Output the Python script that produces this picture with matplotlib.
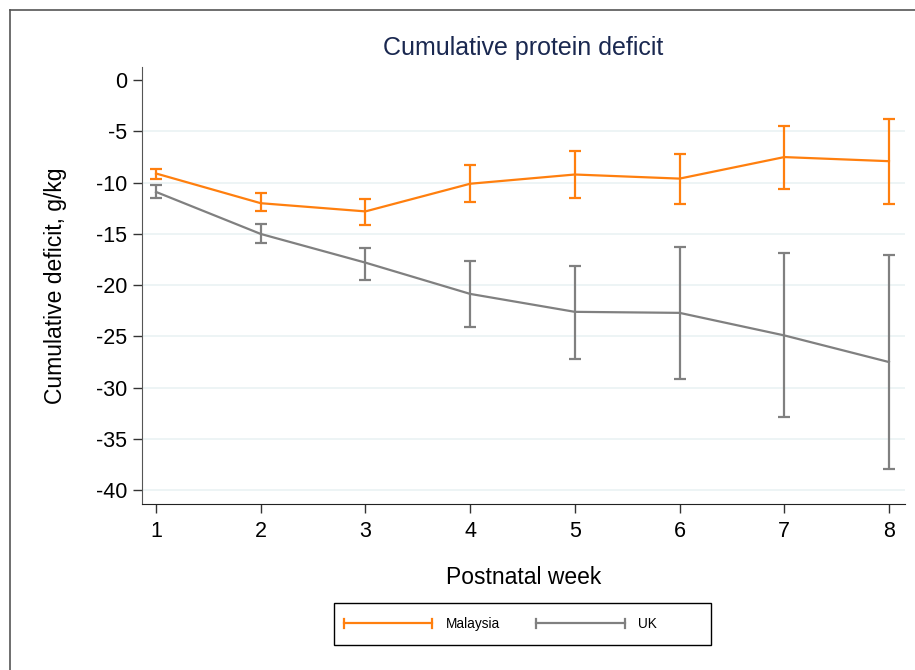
import matplotlib
matplotlib.use("Agg")
import matplotlib.pyplot as plt
from matplotlib.lines import Line2D
from matplotlib.patches import Rectangle
from matplotlib.legend_handler import HandlerBase

plt.rcParams['font.family'] = ['Liberation Sans', 'DejaVu Sans']
plt.rcParams['axes.unicode_minus'] = False

weeks = [1, 2, 3, 4, 5, 6, 7, 8]
malaysia_mean = [-9.1, -12.0, -12.8, -10.1, -9.2, -9.6, -7.5, -7.9]
malaysia_upper = [-8.7, -11.0, -11.6, -8.3, -6.9, -7.2, -4.5, -3.8]
malaysia_lower = [-9.6, -12.8, -14.1, -11.9, -11.5, -12.1, -10.6, -12.1]
uk_mean = [-10.9, -15.0, -17.8, -20.85, -22.6, -22.7, -24.9, -27.5]
uk_upper = [-10.2, -14.0, -16.4, -17.6, -18.1, -16.3, -16.9, -17.1]
uk_lower = [-11.5, -15.9, -19.5, -24.1, -27.2, -29.2, -32.9, -37.9]
yticks = [0, -5, -10, -15, -20, -25, -30, -35, -40]

orange = '#ff7f0e'
gray = '#808080'

fig = plt.figure(figsize=(9.15, 6.7), dpi=100)
ax = fig.add_axes([142/915, 1-504/670, (905-142)/915, (504-67)/670])

for t in yticks[1:]:
    ax.axhline(t, color='#eaf2f3', lw=1.2, zorder=0)

def draw(mean, lo, hi, color, label):
    yerr = [[m - l for m, l in zip(mean, lo)], [h - m for m, h in zip(mean, hi)]]
    ax.errorbar(weeks, mean, yerr=yerr, color=color, lw=1.6, elinewidth=1.6,
                capsize=4.5, capthick=1.6, label=label, zorder=3)

draw(malaysia_mean, malaysia_lower, malaysia_upper, orange, 'Malaysia')
draw(uk_mean, uk_lower, uk_upper, gray, 'UK')

ax.set_xlim(0.866, 8.153)
ax.set_ylim(-41.35, 1.29)
ax.set_xticks(weeks)
ax.set_yticks(yticks)
ax.set_yticklabels([str(t) for t in yticks])
ax.tick_params(axis='both', labelsize=15.5, length=6.5, width=1, direction='out',
               colors='#333333', labelcolor='black')
ax.tick_params(axis='x', pad=6)
ax.tick_params(axis='y', pad=4)
ax.spines['top'].set_visible(False)
ax.spines['right'].set_visible(False)
ax.spines['left'].set_color('#555555')
ax.spines['bottom'].set_color('#222222')
ax.set_xlabel('Postnatal week', fontsize=16.5, labelpad=17)
ax.set_ylabel('Cumulative deficit, g/kg', fontsize=16.5, labelpad=21)
ax.set_title('Cumulative protein deficit', fontsize=18, color='#1a2850', pad=9)


class CapLineHandler(HandlerBase):
    def create_artists(self, legend, orig_handle, xdescent, ydescent, width, height, fontsize, trans):
        color = orig_handle[0].get_color()
        y = height / 2 - ydescent
        h = height * 0.45
        main = Line2D([-xdescent, width - xdescent], [y, y], color=color, lw=1.6, transform=trans)
        c1 = Line2D([-xdescent, -xdescent], [y - h, y + h], color=color, lw=1.6, transform=trans)
        c2 = Line2D([width - xdescent] * 2, [y - h, y + h], color=color, lw=1.6, transform=trans)
        return [main, c1, c2]

handles, labels = ax.get_legend_handles_labels()
leg = fig.legend(handles, labels, loc='center left', bbox_to_anchor=(344/915, 1-624/670),
                 ncol=2, fontsize=9.8, frameon=False, borderpad=0, borderaxespad=0,
                 handlelength=6.5, handletextpad=1.0, columnspacing=2.65,
                 handler_map={type(handles[0]): CapLineHandler()})

fig.add_artist(Rectangle((334/915, 1-645/670), (711-334)/915, 42/670, transform=fig.transFigure,
                         fill=False, edgecolor='black', lw=1.0))
fig.add_artist(Line2D([10/915, 10/915], [0, 1-10/670], color='#555555', lw=1.2, transform=fig.transFigure))
fig.add_artist(Line2D([10/915, 1], [1-10/670, 1-10/670], color='#555555', lw=1.2, transform=fig.transFigure))

fig.savefig('out.png', dpi=100)
